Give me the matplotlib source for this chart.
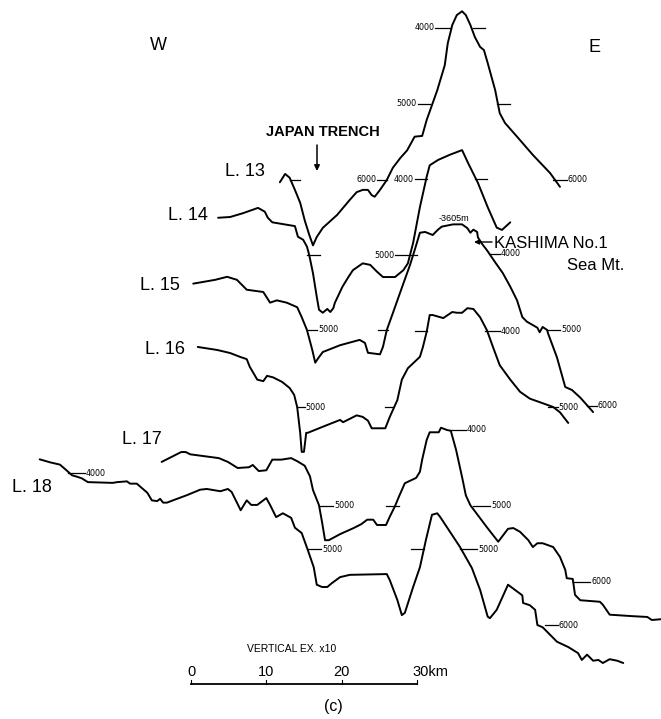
import matplotlib
matplotlib.use("Agg")
import matplotlib.pyplot as plt
import numpy as np

# ---- profile data: distance along line (km), depth (m)
l13_km = [11.8, 12.5, 13.1, 13.8, 14.5, 15.1, 15.7, 16.2, 16.7, 17.5, 19.4, 21.1, 22.0, 22.8,
          23.5, 24.0, 24.4, 25.1, 26.0, 26.8, 27.8, 28.7, 29.7, 30.7, 31.3, 32.7, 33.7, 34.1,
          34.7, 35.3, 36.0, 36.5, 37.1, 37.7, 38.4, 38.9, 39.4, 40.4, 41.0, 41.7, 43.3, 45.4,
          47.7, 49.0]
l13_depth = [6030, 5920, 5970, 6130, 6300, 6530, 6720, 6860, 6750, 6630, 6460, 6260, 6160, 6130,
             6130, 6200, 6220, 6130, 6000, 5840, 5710, 5610, 5430, 5420, 5210, 4820, 4490, 4200,
             3960, 3830, 3780, 3830, 3960, 4120, 4250, 4290, 4460, 4820, 5120, 5250, 5430, 5670,
             5910, 6090]

l14_km = [3.6, 5.2, 6.9, 8.9, 9.8, 10.2, 10.8, 11.4, 13.8, 14.2, 14.9, 15.4, 15.7, 16.2, 16.7,
          17.0, 17.5, 18.1, 18.5, 18.9, 19.1, 20.1, 20.9, 21.5, 22.8, 23.8, 24.7, 25.5, 27.1,
          28.2, 28.8, 29.5, 30.4, 31.3, 31.7, 32.8, 34.4, 36.0, 36.8, 38.1, 39.4, 40.6, 41.3,
          42.4]
l14_depth = [4510, 4500, 4450, 4380, 4430, 4510, 4570, 4580, 4620, 4760, 4800, 4890, 5000, 5240,
             5550, 5720, 5760, 5710, 5750, 5700, 5630, 5420, 5290, 5200, 5110, 5130, 5220, 5290,
             5290, 5200, 5110, 4840, 4370, 3970, 3820, 3750, 3680, 3620, 3790, 4050, 4370, 4640,
             4670, 4570]

l15_km = [0.3, 3.2, 4.8, 6.1, 7.4, 9.6, 10.5, 11.4, 12.7, 14.1, 14.7, 15.4, 16.1, 16.5, 16.9,
          17.5, 19.8, 22.4, 23.1, 23.5, 25.1, 25.5, 26.0, 26.8, 27.8, 29.1, 29.7, 30.4, 31.1,
          32.1, 32.8, 33.3, 34.8, 36.0, 36.7, 37.1, 37.5, 38.0, 38.1, 38.6, 39.3, 40.4, 41.4,
          42.4, 43.3, 44.0, 44.6, 46.0, 46.3, 46.7, 47.3, 47.4, 48.6, 49.7, 50.6, 51.7, 52.6,
          53.4]
l15_depth = [4390, 4340, 4300, 4340, 4470, 4500, 4640, 4610, 4640, 4700, 4830, 5000, 5260, 5430,
             5370, 5290, 5200, 5130, 5170, 5300, 5320, 5220, 5000, 4780, 4500, 4140, 3950, 3720,
             3710, 3750, 3680, 3640, 3610, 3610, 3660, 3720, 3680, 3710, 3780, 3860, 3950, 4110,
             4250, 4430, 4610, 4830, 4890, 4970, 5030, 4960, 5000, 5040, 5360, 5750, 5790, 5890,
             5990, 6080]

l16_km = [0.9, 3.5, 5.2, 6.5, 7.4, 7.8, 8.8, 9.6, 10.1, 10.9, 12.1, 13.1, 13.7, 14.1, 14.5,
          14.7, 15.0, 15.3, 15.5, 17.5, 19.8, 20.2, 22.0, 22.8, 23.5, 24.0, 25.8, 26.4, 27.4,
          28.0, 28.8, 30.4, 30.8, 31.3, 31.7, 32.1, 33.5, 34.7, 35.3, 36.0, 36.7, 37.5, 38.4,
          39.3, 40.1, 41.0, 42.4, 43.7, 45.0, 46.7, 48.1, 49.0, 50.1]
l16_depth = [4210, 4250, 4290, 4340, 4370, 4470, 4640, 4660, 4590, 4610, 4670, 4750, 4840, 5000,
             5340, 5590, 5590, 5340, 5340, 5260, 5170, 5200, 5110, 5130, 5180, 5280, 5280, 5130,
             4910, 4640, 4490, 4340, 4210, 4010, 3790, 3790, 3830, 3750, 3760, 3760, 3700, 3710,
             3820, 3990, 4210, 4450, 4640, 4800, 4890, 4950, 5000, 5070, 5210]

l17_km = [-3.9, -1.3, -0.7, -0.1, 3.7, 4.9, 6.2, 7.7, 8.2, 9.0, 10.0, 10.8, 12.0, 13.3, 14.1,
          15.1, 15.8, 16.2, 17.0, 17.4, 17.8, 18.3, 19.8, 21.6, 22.6, 23.4, 24.2, 24.7, 25.9,
          26.4, 27.1, 27.6, 28.4, 29.9, 30.4, 30.7, 31.3, 31.7, 32.9, 33.2, 34.0, 34.5, 35.2,
          36.0, 36.5, 37.1, 39.3, 40.8, 42.1, 42.8, 43.7, 44.8, 45.4, 46.0, 46.7, 48.1, 49.0,
          49.7, 49.9, 50.7, 51.0, 51.7, 54.3, 54.7, 55.6, 58.7, 60.6, 61.2, 62.4]
l17_depth = [4420, 4290, 4290, 4320, 4370, 4420, 4500, 4490, 4460, 4540, 4530, 4390, 4390, 4370,
             4410, 4470, 4610, 4790, 4990, 5210, 5450, 5450, 5370, 5290, 5240, 5180, 5180, 5250,
             5250, 5140, 5000, 4880, 4700, 4630, 4550, 4390, 4130, 4030, 4030, 3970, 4000, 4010,
             4260, 4620, 4860, 4990, 5280, 5470, 5300, 5290, 5340, 5450, 5540, 5490, 5490, 5540,
             5670, 5840, 5950, 5960, 6170, 6240, 6260, 6300, 6430, 6450, 6460, 6500, 6490]

l18_km = [-20.1, -18.7, -17.4, -16.7, -15.8, -15.1, -14.5, -13.7, -10.4, -9.8, -8.5, -8.1, -7.2,
          -5.8, -5.2, -4.5, -4.1, -3.7, -3.2, -2.4, -0.5, 1.2, 2.1, 3.9, 4.9, 5.4, 6.6, 7.4, 8.0,
          8.8, 10.0, 10.5, 11.3, 12.2, 13.3, 13.8, 14.7, 15.5, 16.3, 16.7, 17.4, 18.1, 18.7,
          19.8, 21.1, 26.0, 26.4, 27.4, 28.0, 28.4, 29.5, 30.4, 31.2, 32.0, 32.7, 33.1, 35.7,
          37.3, 38.4, 39.4, 39.7, 40.6, 42.1, 44.0, 44.1, 45.0, 45.7, 46.0, 46.7, 47.3, 48.6,
          50.1, 51.4, 51.9, 52.6, 53.4, 54.1, 54.7, 55.6, 56.6, 57.4]
l18_depth = [3820, 3860, 3890, 3950, 4030, 4050, 4070, 4120, 4130, 4120, 4110, 4140, 4140, 4260,
             4360, 4370, 4340, 4390, 4390, 4360, 4290, 4220, 4210, 4240, 4210, 4250, 4490, 4360,
             4420, 4420, 4330, 4420, 4580, 4530, 4590, 4720, 4790, 5010, 5240, 5470, 5500, 5500,
             5450, 5370, 5340, 5330, 5410, 5670, 5870, 5840, 5500, 5240, 4880, 4550, 4530, 4580,
             4970, 5250, 5540, 5890, 5910, 5800, 5470, 5610, 5710, 5740, 5800, 6000, 6030, 6090,
             6220, 6290, 6370, 6460, 6390, 6470, 6460, 6500, 6450, 6470, 6500]

# depth marks on each profile: (depth m, from km, to km, label, label side)
l13_marks = [(4000, 32.4, 34.4, "4000", "L"), (4000, 37.5, 39.0, "", ""),
             (5000, 30.1, 31.7, "5000", "L"), (5000, 40.6, 42.4, "", ""),
             (6000, 13.1, 14.5, "", ""), (6000, 24.7, 26.0, "6000", "L"),
             (6000, 48.1, 49.9, "6000", "R")]
l14_marks = [(4000, 29.7, 31.3, "4000", "L"), (4000, 37.7, 39.3, "", ""),
             (5000, 15.4, 17.1, "", ""), (5000, 27.1, 30.0, "5000", "L")]
l15_marks = [(4000, 39.7, 41.0, "4000", "R"), (5000, 15.5, 16.7, "5000", "R"),
             (5000, 24.8, 26.2, "", ""), (5000, 47.3, 49.0, "5000", "R"),
             (6000, 52.6, 53.9, "6000", "R")]
l16_marks = [(4000, 29.7, 31.3, "", ""), (4000, 39.0, 41.0, "4000", "R"),
             (5000, 14.1, 15.1, "5000", "R"), (5000, 25.8, 26.8, "", ""),
             (5000, 47.4, 48.7, "5000", "R")]
l17_marks = [(4000, 34.5, 36.5, "4000", "R"), (5000, 17.0, 18.9, "5000", "R"),
             (5000, 25.9, 27.6, "", ""), (5000, 37.5, 39.7, "5000", "R"),
             (6000, 50.7, 53.0, "6000", "R")]
l18_marks = [(4000, -16.3, -14.1, "4000", "R"), (5000, 15.5, 17.3, "5000", "R"),
             (5000, 29.2, 30.9, "", ""), (5000, 35.7, 38.0, "5000", "R"),
             (6000, 47.0, 48.7, "6000", "R")]

scale_km = [0, 10, 20, 30]
scale_labels = ["0", "10", "20", "30km"]

# ---- layout (figure pixels)
W_PX, H_PX = 661, 719
PX_PER_KM = 7.53          # horizontal scale
PX_PER_KM_V = 76.0        # vertical scale (x10 exaggeration)
X0_PX = 191               # where km 0 of the scale bar sits

profiles = [
    ("L. 13", l13_km, l13_depth, l13_marks, 28, (225, 172)),
    ("L. 14", l14_km, l14_depth, l14_marks, 179, (168, 215)),
    ("L. 15", l15_km, l15_depth, l15_marks, 254, (140, 285)),
    ("L. 16", l16_km, l16_depth, l16_marks, 331, (145, 349)),
    ("L. 17", l17_km, l17_depth, l17_marks, 430, (122, 440)),
    ("L. 18", l18_km, l18_depth, l18_marks, 473, (12, 488)),
]

plt.rcParams["font.family"] = ["Liberation Sans", "DejaVu Sans"]

fig = plt.figure(figsize=(W_PX / 100, H_PX / 100), dpi=100)
fig.patch.set_facecolor("white")
ax = fig.add_axes([0, 0, 1, 1])
m_per_px = 1000.0 / PX_PER_KM_V
ax.set_xlim(-X0_PX / PX_PER_KM, (W_PX - X0_PX) / PX_PER_KM)
ax.set_ylim(H_PX * m_per_px, 0)
ax.axis("off")


def fx(x):
    return x / W_PX


def fy(y):
    return 1 - y / H_PX


for name, km, depth, marks, row4000, label_xy in profiles:
    # stack each profile at its own height on the page
    shift = row4000 * m_per_px - 4000
    ax.plot(km, np.array(depth) + shift, color="black", lw=1.4,
            solid_joinstyle="round", solid_capstyle="round")
    for d, a, b, text, side in marks:
        ax.plot([a, b], [d + shift, d + shift], color="black", lw=0.9)
        if side == "L":
            ax.text(a - 0.1, d + shift, text, ha="right", va="center",
                    fontsize=5.8, family="DejaVu Sans")
        elif side == "R":
            ax.text(b + 0.15, d + shift, text, ha="left", va="center",
                    fontsize=5.8, family="DejaVu Sans")
    ax.text(fx(label_xy[0]), fy(label_xy[1]), name, transform=ax.transAxes,
            ha="left", va="center", fontsize=13)

# compass letters
ax.text(fx(158), fy(45), "W", transform=ax.transAxes, ha="center", va="center", fontsize=13)
ax.text(fx(595), fy(47), "E", transform=ax.transAxes, ha="center", va="center", fontsize=13)

# Japan Trench
ax.text(fx(323), fy(132), "JAPAN TRENCH", transform=ax.transAxes, ha="center",
        va="center", fontsize=10.5, fontweight="bold")
ax.annotate("", xy=(fx(317), fy(171)), xytext=(fx(317), fy(145)),
            xycoords="axes fraction", textcoords="axes fraction",
            arrowprops=dict(arrowstyle="-|>", color="black", lw=1.1,
                            mutation_scale=8, shrinkA=0, shrinkB=0))

# Kashima seamount
ax.text(fx(454), fy(218), "-3605m", transform=ax.transAxes, ha="center", va="center",
        fontsize=6.5)
ax.text(fx(494), fy(243), "KASHIMA No.1", transform=ax.transAxes, ha="left",
        va="center", fontsize=12)
ax.text(fx(567), fy(265), "Sea Mt.", transform=ax.transAxes, ha="left",
        va="center", fontsize=12)
ax.annotate("", xy=(fx(474), fy(242)), xytext=(fx(492), fy(242)),
            xycoords="axes fraction", textcoords="axes fraction",
            arrowprops=dict(arrowstyle="-|>", color="black", lw=1.0,
                            mutation_scale=7, shrinkA=0, shrinkB=0))

# scale bar
bar_y = 684 * m_per_px
ax.plot([scale_km[0], scale_km[-1]], [bar_y, bar_y], color="black", lw=1.3)
for k, lab in zip(scale_km, scale_labels):
    ax.plot([k, k], [bar_y, bar_y - 4 * m_per_px], color="black", lw=0.8)
    ax.text(k - (0.55 if lab == "30km" else 0), 672 * m_per_px, lab,
            ha="left" if lab == "30km" else "center", va="center", fontsize=10.5)
ax.text(fx(247), fy(649), "VERTICAL EX. x10", transform=ax.transAxes, ha="left",
        va="center", fontsize=7.5)
ax.text(fx(333), fy(706), "(c)", transform=ax.transAxes, ha="center", va="center",
        fontsize=11.5)

fig.savefig("out.png", dpi=100, facecolor="white")
